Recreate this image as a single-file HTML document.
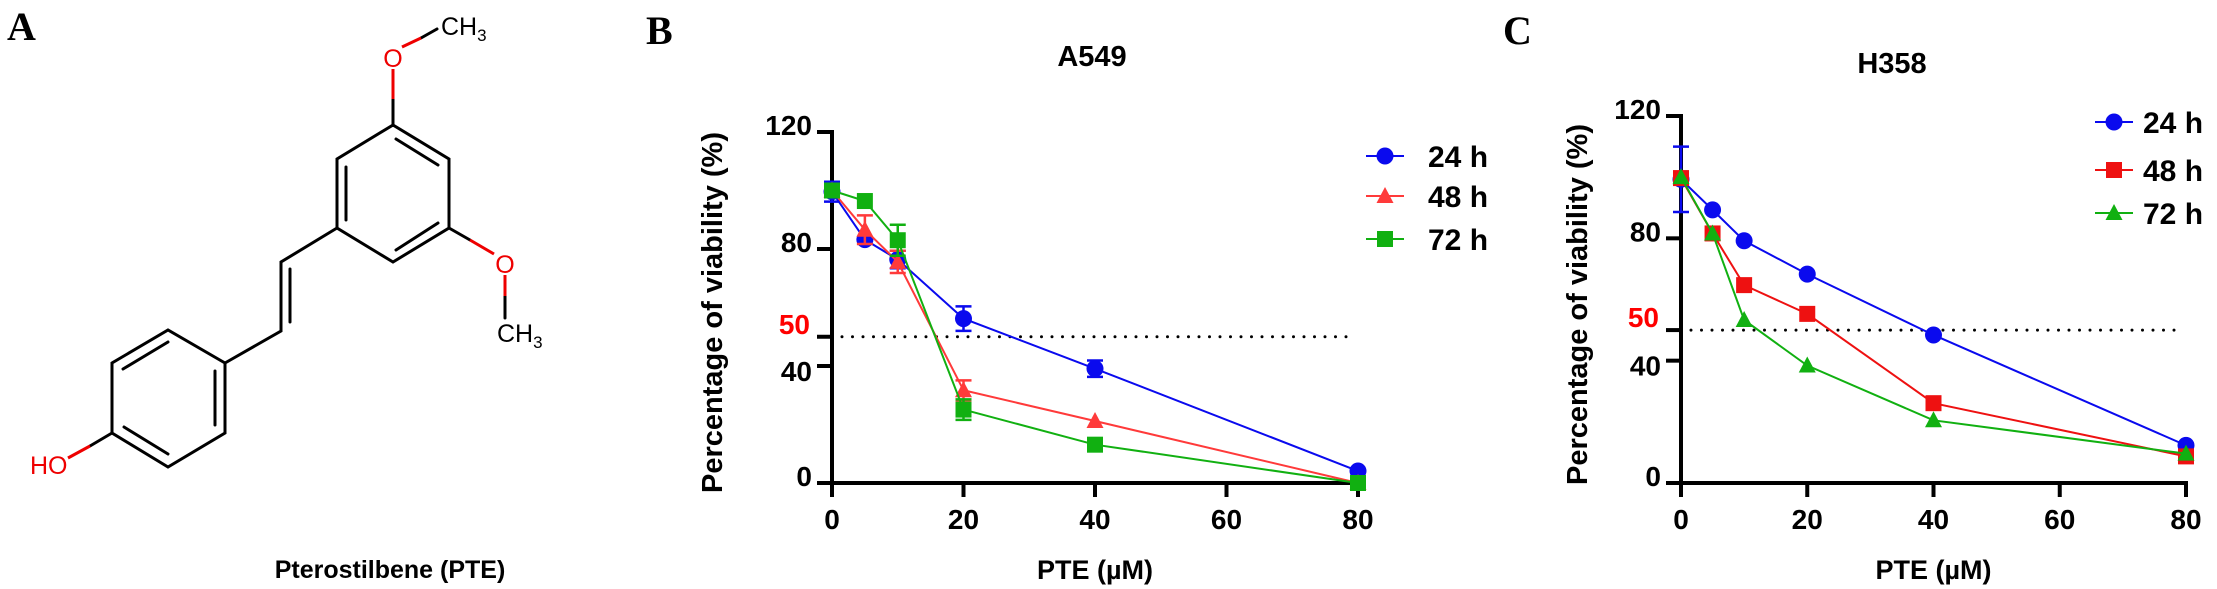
<!DOCTYPE html>
<html><head><meta charset="utf-8"><style>
html,body{margin:0;padding:0;background:#fff;}
svg{display:block;font-family:"Liberation Sans",Arial,sans-serif;}
</style></head><body>
<svg id="fig" width="2217" height="589" viewBox="0 0 2217 589" xmlns="http://www.w3.org/2000/svg">
<g>
<text x="7" y="40" font-family="Liberation Serif,serif" font-weight="bold" font-size="40">A</text>
<g stroke="#000" stroke-width="3" fill="none" stroke-linecap="round">
<polygon points="393,125 449,159 449,228 393,262 337,228 337,159"/>
<line x1="396" y1="139" x2="438" y2="165"/><line x1="346" y1="167" x2="346" y2="220"/><line x1="396" y1="250" x2="438" y2="223"/>
<polygon points="225,363 168,330 112,363 112,433 168,467 225,433"/>
<line x1="123" y1="369" x2="168" y2="342"/><line x1="215" y1="371" x2="215" y2="425"/><line x1="124" y1="427" x2="168" y2="454"/>
<polyline points="337,228 281,262 281,331 225,363"/><line x1="290" y1="269" x2="290" y2="322"/>
<line x1="393" y1="125" x2="393" y2="99"/><line x1="449" y1="228" x2="470" y2="240"/>
<line x1="112" y1="433" x2="90" y2="446"/>
<line x1="421" y1="38" x2="437" y2="29"/><line x1="505" y1="296" x2="505" y2="318"/>
</g>
<g stroke="#e00" stroke-width="3" fill="none">
<line x1="393" y1="99" x2="393" y2="69"/><line x1="402" y1="47" x2="421" y2="38"/>
<line x1="470" y1="240" x2="494" y2="254"/><line x1="505" y1="275" x2="505" y2="296"/>
<line x1="90" y1="446" x2="68" y2="458"/>
</g>
<g font-size="25">
<text x="393" y="67" fill="#e00" text-anchor="middle">O</text>
<text x="441" y="35">CH<tspan font-size="17" dy="6">3</tspan></text>
<text x="505" y="273" fill="#e00" text-anchor="middle">O</text>
<text x="497" y="342">CH<tspan font-size="17" dy="6">3</tspan></text>
<text x="30" y="474" fill="#e00">HO</text>
</g>
<text x="390" y="578" text-anchor="middle" font-weight="bold" font-size="25">Pterostilbene (PTE)</text>
</g>
<g id="chartB"></g>
<g id="chartC"></g>
</svg>
<script>
const doses = [0, 5, 10, 20, 40, 80];
const xTicks = [0, 20, 40, 60, 80];
const yTicks = [0, 40, 80, 120];
// A549
const a549_24h = [99.6, 83.2, 76.4, 56.2, 39.1, 4.1];
const a549_24h_err = [3.4, 0, 3, 4.2, 2.8, 0];
const a549_48h = [100, 86.6, 75.6, 31.7, 21.2, 0];
const a549_48h_err = [0, 4.9, 3.8, 3.4, 0, 0];
const a549_72h = [100, 96.4, 83.0, 25.1, 13.1, 0];
const a549_72h_err = [0, 0, 5.3, 3.5, 0, 0];
// H358
const h358_24h = [99.3, 89.3, 79.2, 68.3, 48.4, 12.3];
const h358_24h_err = [10.7, 0, 0, 0, 0, 0];
const h358_48h = [99.7, 81.6, 64.7, 55.3, 26.1, 8.7];
const h358_48h_err = [0, 0, 0, 0, 0, 0];
const h358_72h = [100, 81.6, 53.3, 38.4, 20.5, 9.6];
const h358_72h_err = [0, 0, 0, 0, 0, 0];
const refLine = 50;

const NS = 'http://www.w3.org/2000/svg';
function mk(parent, tag, attrs, text) {
  const e = document.createElementNS(NS, tag);
  for (const k in attrs) e.setAttribute(k, attrs[k]);
  if (text !== undefined) e.textContent = text;
  parent.appendChild(e);
  return e;
}
function marker(g, shape, cx, cy, color) {
  let m;
  if (shape === 'circle') m = mk(g, 'circle', {cx: cx, cy: cy, r: 8.5, fill: color});
  else if (shape === 'square') m = mk(g, 'rect', {x: cx - 8, y: cy - 8, width: 16, height: 16, fill: color});
  else m = mk(g, 'polygon', {points: (cx) + ',' + (cy - 9) + ' ' + (cx + 8.5) + ',' + (cy + 7) + ' ' + (cx - 8.5) + ',' + (cy + 7), fill: color});
  return m;
}
function drawChart(root, cfg) {
  const X = v => cfg.x0 + (v / 80) * (cfg.x1 - cfg.x0);
  const Y = v => cfg.y0 - (v / 120) * (cfg.y0 - cfg.y1);
  const lbl = mk(root, 'text', {x: cfg.letterX, y: 44, 'font-family': 'Liberation Serif,serif', 'font-weight': 'bold', 'font-size': 40}, cfg.letter);
  
  
  const t = mk(root, 'text', {x: cfg.titleX, y: cfg.titleY, 'text-anchor': 'middle', 'font-weight': 'bold', 'font-size': 29}, cfg.title);
  
  
  const yl = mk(root, 'text', {x: 0, y: 0, transform: 'translate(' + cfg.ylabX + ',' + ((cfg.y0 + cfg.y1) / 2 + 5) + ') rotate(-90)', 'text-anchor': 'middle', 'font-weight': 'bold', 'font-size': 29}, 'Percentage of viability (%)');
  
  
  const xl = mk(root, 'text', {x: (cfg.x0 + cfg.x1) / 2, y: 579, 'text-anchor': 'middle', 'font-weight': 'bold', 'font-size': 27}, 'PTE (\u00b5M)');
  
  
  const ax = mk(root, 'g', {stroke: '#000', 'stroke-width': 4});
  
  
  mk(ax, 'line', {x1: cfg.x0, y1: cfg.y1 - 2, x2: cfg.x0, y2: cfg.y0 + 14});
  mk(ax, 'line', {x1: cfg.x0 - 15, y1: cfg.y0, x2: cfg.x1 + 2, y2: cfg.y0});
  yTicks.concat([refLine]).forEach(v => {
    mk(ax, 'line', {x1: cfg.x0 - 15, y1: Y(v), x2: cfg.x0, y2: Y(v)});
  });
  xTicks.forEach(v => {
    mk(ax, 'line', {x1: X(v), y1: cfg.y0, x2: X(v), y2: cfg.y0 + 14});
    const tl = mk(root, 'text', {x: X(v), y: cfg.y0 + 46, 'text-anchor': 'middle', 'font-weight': 'bold', 'font-size': 28}, String(v));
    
    
  });
  yTicks.forEach(v => {
    const tl = mk(root, 'text', {x: cfg.x0 - 20, y: Y(v) + (v === 40 ? 15 : 3), 'text-anchor': 'end', 'font-weight': 'bold', 'font-size': 28}, String(v));
    
    
  });
  const rl = mk(root, 'text', {x: cfg.x0 - 22, y: Y(refLine) - 3, 'text-anchor': 'end', 'font-weight': 'bold', 'font-size': 28, fill: '#ff0000'}, String(refLine));
  
  
  const dl = mk(root, 'line', {x1: cfg.x0 + 10, y1: Y(refLine), x2: cfg.x1 - 10, y2: Y(refLine), stroke: '#000', 'stroke-width': 3, 'stroke-dasharray': '0 10.5', 'stroke-linecap': 'round'});
  
  
  cfg.series.forEach((s, i) => {
    const g = mk(root, 'g', {});
    
    
    mk(g, 'polyline', {points: doses.map((d, j) => X(d) + ',' + Y(s.values[j])).join(' '), fill: 'none', stroke: s.color, 'stroke-width': 2});
    doses.forEach((d, j) => {
      const e = s.err[j];
      if (e > 0) {
        const eb = mk(g, 'path', {d: 'M' + X(d) + ' ' + Y(s.values[j] - e) + 'V' + Y(s.values[j] + e) + 'M' + (X(d) - 8) + ' ' + Y(s.values[j] + e) + 'h16M' + (X(d) - 8) + ' ' + Y(s.values[j] - e) + 'h16', stroke: s.color, 'stroke-width': 2.5, fill: 'none'});
        
        
      }
      const m = marker(g, s.shape, X(d), Y(s.values[j]), s.color);
      
      
    });
    const lg = mk(root, 'g', {});
    
    
    const ly = cfg.legY[i];
    mk(lg, 'line', {x1: cfg.legX - 19, y1: ly, x2: cfg.legX + 19, y2: ly, stroke: s.color, 'stroke-width': 2});
    marker(lg, s.shape, cfg.legX, ly, s.color);
    mk(lg, 'text', {x: cfg.legTextX, y: ly + 11, 'font-weight': 'bold', 'font-size': 30}, s.name);
  });
}
drawChart(document.getElementById('chartB'), {
  x0: 832, x1: 1358, y0: 483, y1: 132, letter: 'B', letterX: 646, title: 'A549', titleX: 1092, titleY: 66, ylabX: 722,
  legX: 1385, legTextX: 1428, legY: [156, 196, 239],
  series: [
    {name: '24 h', values: a549_24h, err: a549_24h_err, color: '#0a0aee', shape: 'circle'},
    {name: '48 h', values: a549_48h, err: a549_48h_err, color: '#ff3a3a', shape: 'triangle'},
    {name: '72 h', values: a549_72h, err: a549_72h_err, color: '#11b011', shape: 'square'}
  ]
});
drawChart(document.getElementById('chartC'), {
  x0: 1681, x1: 2186, y0: 483, y1: 116, letter: 'C', letterX: 1503, title: 'H358', titleX: 1892, titleY: 73, ylabX: 1587,
  legX: 2114, legTextX: 2143, legY: [122, 170, 213],
  series: [
    {name: '24 h', values: h358_24h, err: h358_24h_err, color: '#0a0aee', shape: 'circle'},
    {name: '48 h', values: h358_48h, err: h358_48h_err, color: '#ee1111', shape: 'square'},
    {name: '72 h', values: h358_72h, err: h358_72h_err, color: '#11b011', shape: 'triangle'}
  ]
});
</script>
</body></html>
